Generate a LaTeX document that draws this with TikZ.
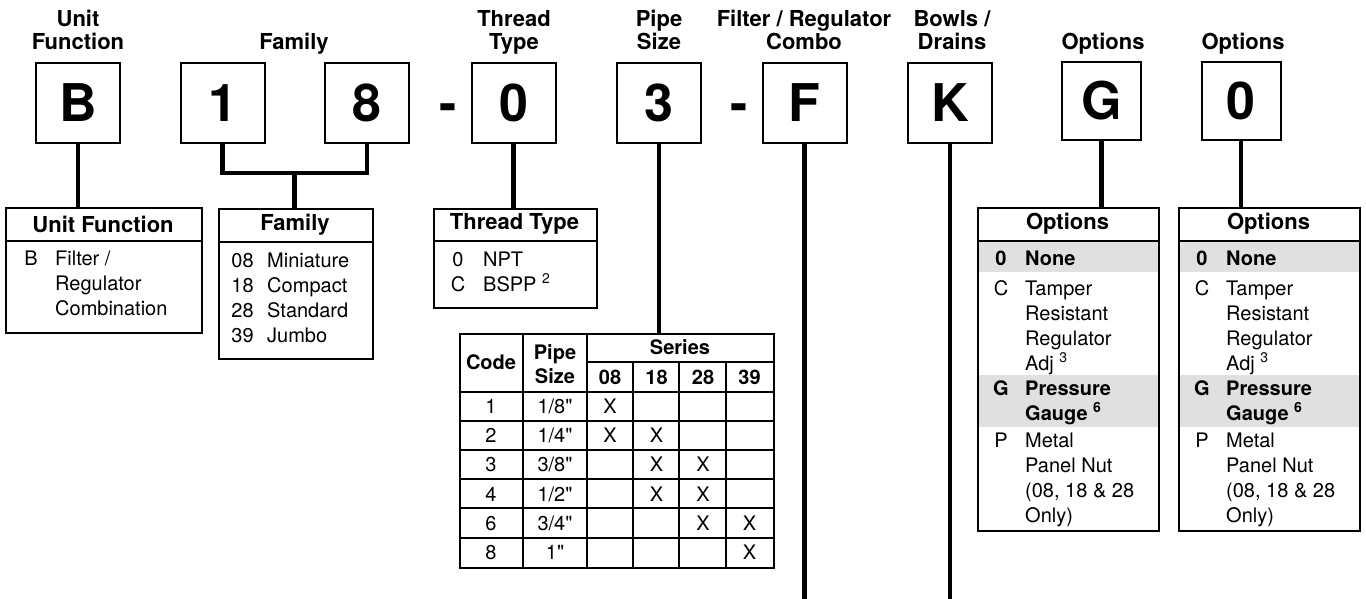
\documentclass[tikz,border=0pt]{standalone}
\usepackage{fontspec}
\setmainfont{TeX Gyre Heros}
\tikzset{
    codebox/.style={draw, line width=2pt, minimum width=84pt, minimum height=80pt, inner sep=0pt,
        font=\fontsize{52}{52}\selectfont\bfseries},
    bigdash/.style={inner sep=0pt, font=\fontsize{52}{52}\selectfont\bfseries},
    toplabel/.style={inner sep=0pt, align=center, font=\fontsize{22}{23}\selectfont\bfseries},
    keybox/.style={draw, line width=2pt, inner sep=0pt},
    keyhead/.style={inner sep=0pt, font=\fontsize{22}{22}\selectfont\bfseries},
    tablehead/.style={inner sep=0pt, align=center, font=\fontsize{20}{24}\selectfont\bfseries},
    keytext/.style={inner sep=0pt, font=\fontsize{20}{20}\selectfont},
    stem/.style={line width=4.5pt},
    rule/.style={line width=2pt},
    band/.style={fill=black!12},
}

\begin{document}
\begin{tikzpicture}[x=1pt,y=-1pt]
    \useasboundingbox (0,0) rectangle (1366,599);

    % model code boxes
    \node[codebox] (unitB) at (78,103) {B};
    \node[codebox] (fam1) at (222.5,103) {1};
    \node[codebox] (fam8) at (367,103) {8};
    \node[bigdash, anchor=base] (dashA) at (448,122) {-};
    \node[codebox] (thread0) at (513.5,103) {0};
    \node[codebox] (pipe3) at (659,103) {3};
    \node[bigdash, anchor=base] (dashB) at (739,122) {-};
    \node[codebox] (comboF) at (804.5,103) {F};
    \node[codebox] (bowlK) at (950,103) {K};
    \node[codebox, minimum width=79pt, minimum height=78pt] (optG) at (1101.5,101) {G};
    \node[codebox, minimum width=79pt, minimum height=78pt] (opt0) at (1241,101) {0};

    % labels on top
    \node[toplabel, anchor=base] (lblUnit) at (78,50) {Unit\\Function};
    \node[toplabel, anchor=base] (lblFamily) at (294,50) {Family};
    \node[toplabel, anchor=base] (lblThread) at (514,50) {Thread\\Type};
    \node[toplabel, anchor=base] (lblPipe) at (659,50) {Pipe\\Size};
    \node[toplabel, anchor=base] (lblCombo) at (804,50) {Filter / Regulator\\Combo};
    \node[toplabel, anchor=base] (lblBowls) at (952,50) {Bowls /\\Drains};
    \node[toplabel, anchor=base] (lblOptG) at (1103,50) {Options};
    \node[toplabel, anchor=base] (lblOpt0) at (1243,50) {Options};

    % unit function key
    \node[keybox, anchor=north west, minimum width=196pt, minimum height=125pt] (unitkey) at (5,207) {};
    \draw[rule] (unitkey.west |- 0,241) -- (unitkey.east |- 0,241);
    \node[keyhead] (unithead) at (103,224) {Unit Function};
    \node[keytext, anchor=base] (unitcode) at (31,265) {B};
    \foreach \yy/\txt [count=\i] in {265/{Filter /}, 290/Regulator, 315/Combination}
        \node[keytext, anchor=base west] (unittext\i) at (55,\yy) {\txt};

    % family key
    \node[keybox, anchor=north west, minimum width=154pt, minimum height=150pt] (famkey) at (218,208) {};
    \draw[rule] (famkey.west |- 0,242) -- (famkey.east |- 0,242);
    \node[keyhead] (famhead) at (295,225) {Family};
    \foreach \yy/\cd/\txt [count=\i] in {267/08/Miniature, 292/18/Compact, 317/28/Standard, 342/39/Jumbo} {
        \node[keytext, anchor=base] (famcode\i) at (242.5,\yy) {\cd};
        \node[keytext, anchor=base west] (famtext\i) at (267,\yy) {\txt};
    }

    % thread type key
    \node[keybox, anchor=north west, minimum width=163pt, minimum height=99pt] (threadkey) at (433,208) {};
    \draw[rule] (threadkey.west |- 0,241) -- (threadkey.east |- 0,241);
    \node[keyhead] (threadhead) at (514.5,224) {Thread Type};
    \foreach \yy/\cd/\txt [count=\i] in {266/0/NPT, 291/C/{BSPP \textsuperscript{2}}} {
        \node[keytext, anchor=base] (threadcode\i) at (458,\yy) {\cd};
        \node[keytext, anchor=base west] (threadtext\i) at (483,\yy) {\txt};
    }

    % pipe size table
    \node[keybox, anchor=north west, minimum width=314pt, minimum height=234pt] (sizetable) at (459,333) {};
    \foreach \xx in {523,587}
        \draw[rule] (\xx,333) -- (\xx,567);
    \foreach \xx in {633,679,726}
        \draw[rule] (\xx,362) -- (\xx,567);
    \draw[rule] (587,362) -- (773,362);
    \foreach \yy in {392,421,450,479,508,538}
        \draw[rule] (459,\yy) -- (773,\yy);
    \node[tablehead] (thcode) at (491,362) {Code};
    \node[tablehead] (thpipe) at (555,364) {Pipe\\Size};
    \node[tablehead] (thseries) at (680,347.5) {Series};
    \foreach \xx/\s in {610/08, 656.5/18, 703/28, 749.5/39}
        \node[tablehead] (thser\s) at (\xx,377) {\s};
    \foreach \cd/\sz [count=\r] in {1/{1/8\textquotedbl}, 2/{1/4\textquotedbl}, 3/{3/8\textquotedbl},
            4/{1/2\textquotedbl}, 6/{3/4\textquotedbl}, 8/{1\textquotedbl}} {
        \node[keytext, anchor=base] (rowcode\r) at (491,{413.5+29.2*(\r-1)}) {\cd};
        \node[keytext, anchor=base] (rowsize\r) at (555,{413.5+29.2*(\r-1)}) {\sz};
    }
    \foreach \c/\r in {1/1, 1/2, 2/2, 2/3, 3/3, 2/4, 3/4, 3/5, 4/5, 4/6}
        \node[keytext, anchor=base] (mark\c-\r) at ({563.5+46.5*\c},{413.5+29.2*(\r-1)}) {X};

    % options keys
    \foreach \ox [count=\k] in {977,1178} {
        \fill[band] (\ox,242) rectangle ++(181,30);
        \fill[band] (\ox,375) rectangle ++(181,52);
        \node[keybox, anchor=north west, minimum width=181pt, minimum height=323pt] (optkey\k) at (\ox,207) {};
        \draw[rule] (optkey\k.west |- 0,241) -- (optkey\k.east |- 0,241);
        \node[keyhead] (opthead\k) at (\ox+90.5,224) {Options};
        \foreach \yy/\cd [count=\j] in {265/\bfseries 0, 295/C, 395/\bfseries G, 447/P}
            \node[keytext, anchor=base] (optcode\k-\j) at (\ox+24,\yy) {\cd};
        \foreach \yy/\txt [count=\j] in {265/\bfseries None, 295/Tamper, 320/Resistant, 345/Regulator,
                370/{Adj \textsuperscript{3}}, 395/\bfseries Pressure, 420/{\bfseries Gauge \textsuperscript{6}},
                447/Metal, 472/{Panel Nut}, 497/{(08, 18 \& 28}, 522/Only)}
            \node[keytext, anchor=base west] (opttext\k-\j) at (\ox+48,\yy) {\txt};
    }

    % connectors
    \coordinate (famjoin) at (294.5,173);
    \coordinate (endF) at (804.5,599);
    \coordinate (endK) at (950,599);
    \draw[stem] (unitB.south) -- (unitB.south |- unitkey.north);
    \draw[stem] (fam1.south) |- (famjoin) -| (fam8.south);
    \draw[stem] (famjoin) -- (famjoin |- famkey.north);
    \draw[stem] (thread0.south) -- (thread0.south |- threadkey.north);
    \draw[stem] (pipe3.south) -- (pipe3.south |- sizetable.north);
    \draw[stem] (comboF.south) -- (endF);
    \draw[stem] (bowlK.south) -- (endK);
    \draw[stem] (optG.south) -- (optG.south |- optkey1.north);
    \draw[stem] (opt0.south) -- (opt0.south |- optkey2.north);
\end{tikzpicture}
\end{document}
